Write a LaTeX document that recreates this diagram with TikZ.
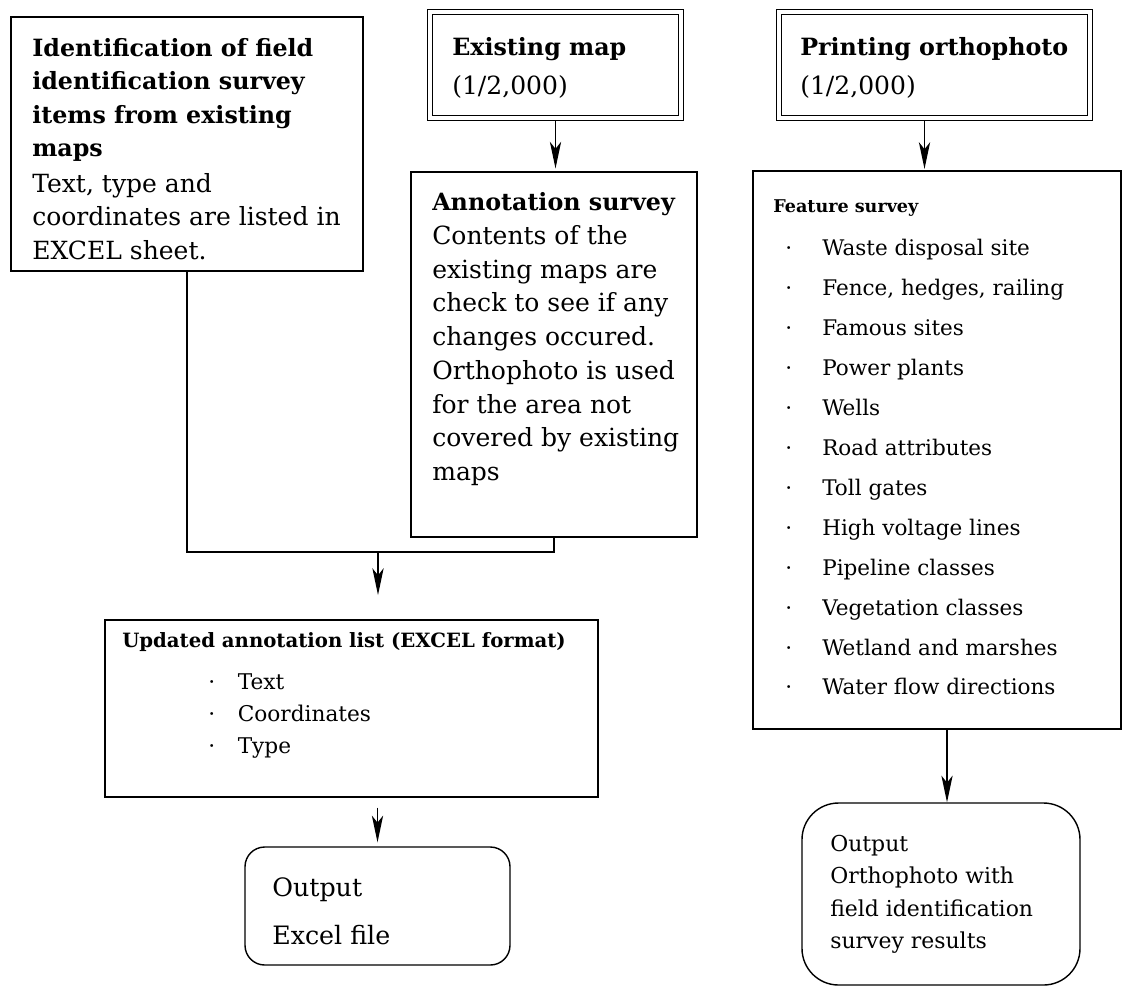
\documentclass[tikz,border=0pt]{standalone}
\usepackage{fontspec}
\setmainfont{DejaVu Serif}
\usetikzlibrary{arrows.meta,fit}
\newcommand{\hdfont}{\bfseries\fontsize{16.9}{23.8}\selectfont}
\newcommand{\txfont}{\mdseries\fontsize{17.8}{23.8}\selectfont}
\newcommand{\dotitem}[1]{\makebox[#1][l]{·}}
\tikzset{
    plainbox/.style={draw, line width=1pt, inner sep=0pt},
    dblbox/.style={draw, double, line width=0.9pt, double distance=2.4pt, inner sep=0pt},
    roundbox/.style={draw, line width=1pt, inner sep=0pt, rounded corners=#1},
    boxtext/.style={anchor=north west, align=left, inner sep=0pt},
    joinline/.style={line width=0.9pt},
    flowarrow/.style={line width=0.9pt, -{Stealth[length=19pt, width=8pt, inset=5pt]}}
}
\begin{document}
\begin{tikzpicture}[x=0.025cm, y=-0.025cm]
        \useasboundingbox (0,0) rectangle (1123,989);
        \node[plainbox, fit={(11,17) (363,271)}] (ident) {};
        \node[boxtext, font=\hdfont] (identhead) at (32,38)
            {Identification of field\\ identification survey\\ items from existing\\ maps};
        \node[boxtext, font=\txfont] (identbody) at (32,173)
            {Text, type and\\ coordinates are listed in\\ EXCEL sheet.};
        \node[dblbox, fit={(430,12) (681,118)}] (exmap) {};
        \node[boxtext, font=\hdfont] (exmaphead) at (452,37) {Existing map};
        \node[boxtext, font=\txfont] (exmapbody) at (452,75) {(1/2,000)};
        \node[plainbox, fit={(411,172) (697,537)}] (annot) {};
        \node[boxtext, font=\hdfont] (annothead) at (432,192) {Annotation survey};
        \node[boxtext, font=\fontsize{17.8}{24}\selectfont] (annotbody) at (432,225)
            {Contents of the\\ existing maps are\\ check to see if any\\ changes occured.\\
             Orthophoto is used\\ for the area not\\ covered by existing\\ maps};
        \node[dblbox, fit={(779,12) (1090,118)}] (ortho) {};
        \node[boxtext, font=\hdfont] (orthohead) at (800,37) {Printing orthophoto};
        \node[boxtext, font=\txfont] (orthobody) at (800,75) {(1/2,000)};
        \node[plainbox, fit={(753,171) (1121,729)}] (feat) {};
        \node[boxtext, font=\bfseries\fontsize{12.5}{16}\selectfont] (feathead) at (773,199) {Feature survey};
        \node[boxtext, font=\fontsize{15.3}{28.4}\selectfont] (featlist) at (785,239)
            {\dotitem{26.3pt}Waste disposal site\\ \dotitem{26.3pt}Fence, hedges, railing\\
             \dotitem{26.3pt}Famous sites\\ \dotitem{26.3pt}Power plants\\ \dotitem{26.3pt}Wells\\
             \dotitem{26.3pt}Road attributes\\ \dotitem{26.3pt}Toll gates\\ \dotitem{26.3pt}High voltage lines\\
             \dotitem{26.3pt}Pipeline classes\\ \dotitem{26.3pt}Vegetation classes\\
             \dotitem{26.3pt}Wetland and marshes\\ \dotitem{26.3pt}Water flow directions};
        \node[plainbox, fit={(105,620) (598,797)}] (upd) {};
        \node[boxtext, font=\bfseries\fontsize{14}{20}\selectfont] (updhead) at (122,632)
            {Updated annotation list (EXCEL format)};
        \node[boxtext, font=\fontsize{15.4}{23}\selectfont] (updlist) at (208,673)
            {\dotitem{21pt}Text\\ \dotitem{21pt}Coordinates\\ \dotitem{21pt}Type};
        \node[roundbox=14pt, fit={(245,847) (510,965)}] (outxls) {};
        \node[boxtext, font=\fontsize{18}{34.3}\selectfont] (outxlstext) at (272,877)
            {Output\\ Excel file};
        \node[roundbox=26pt, fit={(802,803) (1080,985)}] (outphoto) {};
        \node[boxtext, font=\fontsize{15.6}{23}\selectfont] (outphototext) at (830,835)
            {Output\\ Orthophoto with\\ field identification\\ survey results};
        \coordinate (join) at (378,552);
        \coordinate (jointip) at (378,595);
        \draw[flowarrow, shorten <=2pt, shorten >=2pt] (exmap.south) -- (exmap.south |- annot.north);
        \draw[flowarrow, shorten <=2pt, shorten >=1pt] ([xshift=-0.25cm]ortho.south) -- ([xshift=-0.25cm]ortho.south |- feat.north);
        \draw[joinline] (ident.south) |- (join) -| (annot.south);
        \draw[flowarrow] (join) -- (jointip);
        \draw[flowarrow] ([yshift=-0.25cm]upd.south -| outxls.north) -- ([yshift=0.1cm]outxls.north);
        \draw[flowarrow] ([xshift=0.25cm]feat.south) -- ([xshift=0.25cm]feat.south |- outphoto.north);
    \end{tikzpicture}
\end{document}
